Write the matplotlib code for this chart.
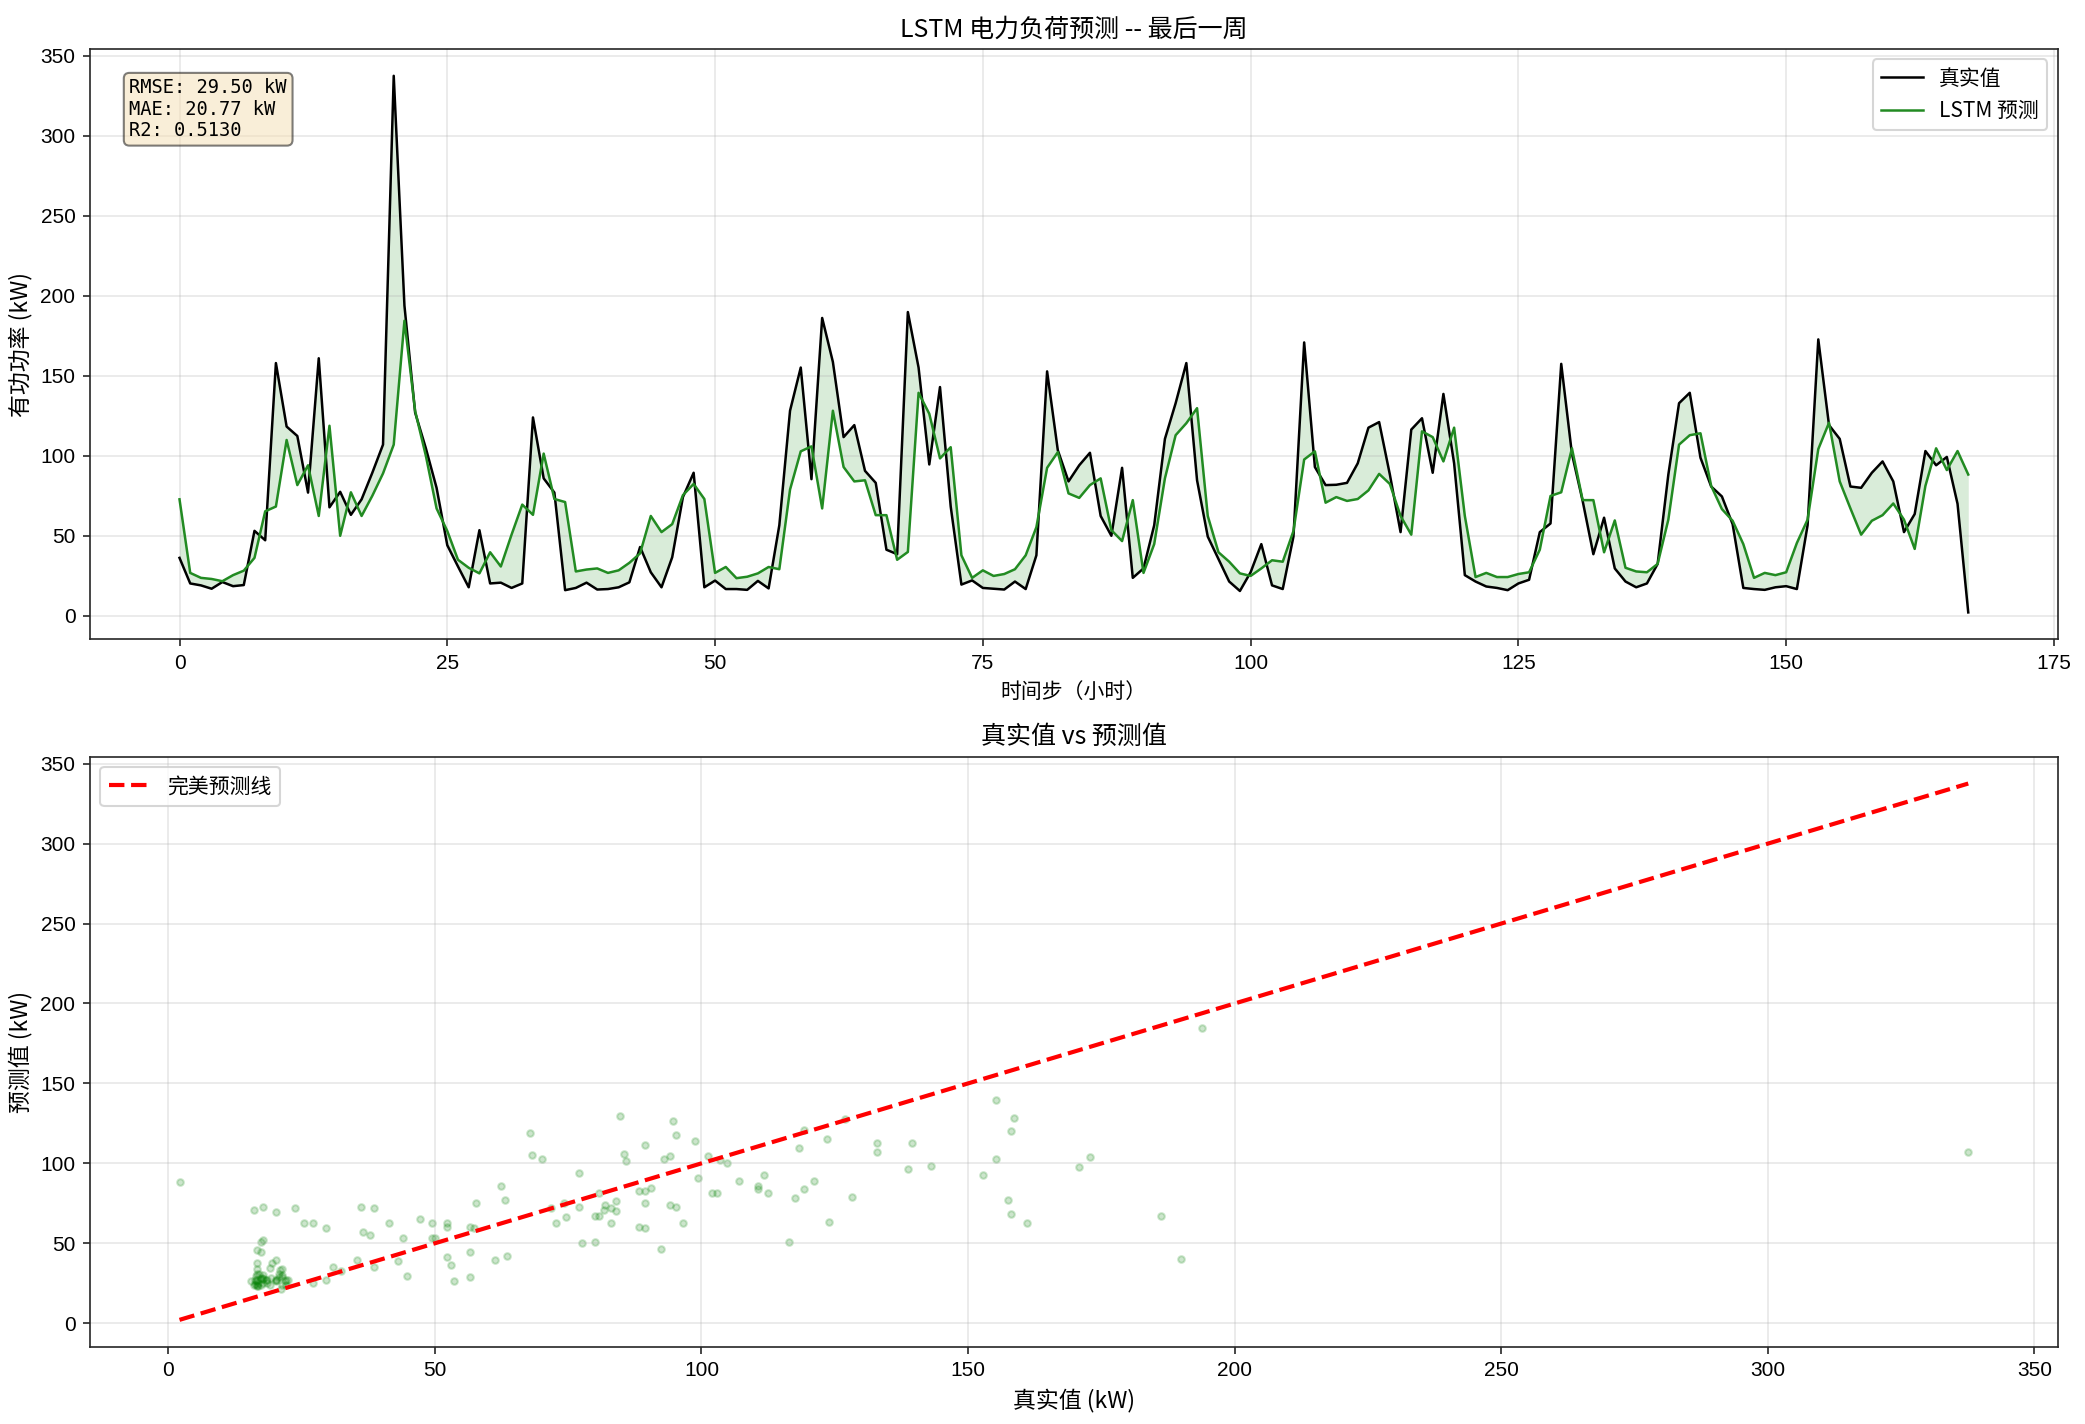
import numpy as np
import matplotlib
matplotlib.use("Agg")
import matplotlib.pyplot as plt

plt.rcParams['font.family'] = ['Liberation Sans', 'Noto Sans CJK SC', 'DejaVu Sans']
plt.rcParams['axes.unicode_minus'] = False
CJK = ['Noto Sans CJK SC', 'DejaVu Sans']

# ---- data ----
true_vals = [
    36.2, 20.2, 19.0, 16.9, 21.1, 18.5, 19.2, 53.1, 47.2, 158.0,
    118.3, 112.4, 77.0, 161.0, 67.8, 77.5, 63.1, 72.8, 89.4, 107.0,
    337.6, 193.9, 127.0, 104.7, 80.0, 44.1, 30.8, 17.8, 53.5, 20.2,
    20.7, 17.4, 20.2, 124.0, 85.9, 77.0, 16.0, 17.4, 20.7, 16.4,
    16.7, 17.8, 20.9, 43.0, 27.2, 17.8, 36.6, 74.2, 89.4, 17.8,
    22.0, 16.7, 16.7, 16.2, 21.8, 17.1, 56.6, 128.2, 155.2, 85.4,
    186.2, 158.7, 111.7, 119.2, 90.6, 83.1, 41.3, 38.5, 189.9, 155.2,
    94.6, 143.0, 68.3, 19.5, 22.1, 17.4, 16.9, 16.4, 21.4, 16.7,
    37.8, 152.8, 103.5, 84.0, 94.1, 101.9, 62.4, 50.0, 92.5, 23.7,
    29.6, 56.6, 110.6, 132.9, 158.0, 84.7, 49.5, 35.4, 21.4, 15.5,
    27.2, 44.8, 19.0, 16.7, 49.5, 170.9, 93.0, 81.7, 81.9, 83.1,
    95.3, 117.6, 121.1, 88.3, 52.3, 116.4, 123.5, 89.4, 138.7, 95.3,
    25.4, 21.4, 18.3, 17.4, 16.0, 20.2, 22.5, 52.3, 57.7, 157.5,
    101.2, 71.8, 38.5, 61.3, 29.6, 21.4, 17.8, 20.2, 32.4, 88.3,
    132.9, 139.4, 98.8, 80.8, 74.6, 57.3, 17.4, 16.7, 16.2, 17.8,
    18.5, 16.7, 56.6, 172.8, 119.2, 110.6, 80.8, 80.0, 89.4, 96.5,
    84.0, 52.3, 63.6, 103.0, 94.1, 99.3, 70.0, 2.1,
]
pred_vals = [
    72.8, 26.8, 23.7, 23.0, 21.6, 25.4, 28.2, 36.2, 65.3, 68.3,
    109.9, 81.7, 94.1, 62.4, 118.8, 50.0, 77.2, 62.4, 75.0, 89.0,
    107.0, 184.5, 128.0, 100.0, 67.1, 53.0, 35.0, 30.0, 26.5, 39.7,
    30.8, 50.7, 69.5, 63.1, 101.4, 73.0, 71.1, 27.7, 28.9, 29.6,
    26.8, 28.4, 33.1, 39.0, 62.4, 52.3, 57.3, 75.4, 82.4, 73.0,
    26.8, 30.5, 23.5, 24.4, 26.5, 30.5, 29.1, 78.9, 102.8, 105.9,
    67.1, 128.2, 93.0, 84.0, 84.7, 62.9, 62.9, 35.0, 39.9, 139.4,
    126.3, 98.4, 105.4, 37.8, 23.7, 28.4, 24.9, 26.1, 29.1, 37.8,
    55.4, 92.5, 102.3, 76.5, 73.7, 81.7, 85.9, 53.5, 46.7, 72.3,
    26.8, 44.8, 85.9, 112.9, 120.4, 129.8, 62.4, 39.7, 33.8, 26.5,
    24.9, 29.6, 34.7, 33.8, 53.0, 97.7, 102.8, 70.7, 74.2, 71.8,
    73.0, 78.4, 88.7, 82.4, 62.4, 50.7, 115.3, 111.7, 96.5, 117.6,
    62.4, 24.2, 26.8, 24.2, 24.2, 26.1, 27.2, 41.3, 74.9, 77.2,
    104.7, 72.3, 72.3, 39.7, 59.6, 30.0, 27.7, 27.2, 32.4, 60.1,
    107.0, 112.9, 114.1, 81.2, 66.7, 59.4, 44.8, 23.7, 26.8, 25.4,
    27.2, 45.5, 60.1, 104.2, 120.7, 84.0, 67.1, 50.7, 59.4, 62.9,
    70.2, 60.1, 41.8, 81.2, 104.7, 91.1, 103.0, 88.3,
]
metrics_text = "RMSE: 29.50 kW\nMAE: 20.77 kW\nR2: 0.5130"

y_true = np.array(true_vals)
y_pred = np.array(pred_vals)
steps = np.arange(len(y_true))

fig = plt.figure(figsize=(2085 / 150, 1424 / 150), dpi=150)
ax1 = fig.add_axes([0.0432, 0.5511, 0.9437, 0.4145])
ax2 = fig.add_axes([0.0432, 0.0543, 0.9437, 0.4143])

for ax in (ax1, ax2):
    for s in ax.spines.values():
        s.set_color('#262626')
    ax.tick_params(colors='#262626', labelcolor='black')
    ax.grid(True, alpha=0.3)

# ---- top: time series ----
ax1.plot(steps, y_true, color='black', lw=1.2, label='真实值')
ax1.plot(steps, y_pred, color='forestgreen', lw=1.2, label='LSTM 预测')
ax1.fill_between(steps, y_true, y_pred, color='green', alpha=0.15, lw=0)
ax1.set_title('LSTM 电力负荷预测 -- 最后一周', fontsize=12, family=CJK)
ax1.set_xlabel('时间步（小时）', fontsize=10, family=CJK)
ax1.set_ylabel('有功功率 (kW)', fontsize=11, family=CJK)
ax1.legend(loc='upper right', prop={'family': CJK, 'size': 10})
ax1.text(0.02, 0.95, metrics_text, transform=ax1.transAxes, va='top', ha='left',
         fontsize=9, family=['DejaVu Sans Mono'], linespacing=1.15,
         bbox=dict(boxstyle='round', facecolor='wheat', alpha=0.5))

# ---- bottom: scatter ----
ax2.scatter(y_true, y_pred, s=10, color='green', alpha=0.2)
lo, hi = y_true.min(), y_true.max()
ax2.plot([lo, hi], [lo, hi], 'r--', lw=2, label='完美预测线')
ax2.set_title('真实值 vs 预测值', fontsize=12, family=CJK)
ax2.set_xlabel('真实值 (kW)', fontsize=11, family=CJK)
ax2.set_ylabel('预测值 (kW)', fontsize=11, family=CJK)
ax2.legend(loc='upper left', prop={'family': CJK, 'size': 10})

fig.savefig('out.png', dpi=150)
